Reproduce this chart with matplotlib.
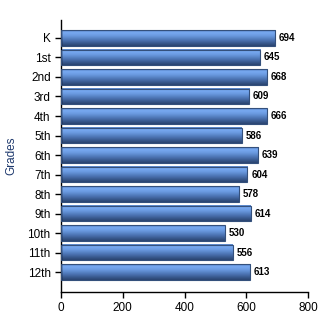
import matplotlib
matplotlib.use("Agg")
import matplotlib.pyplot as plt
import numpy as np
from matplotlib.colors import LinearSegmentedColormap

grades = ["K", "1st", "2nd", "3rd", "4th", "5th", "6th", "7th", "8th", "9th", "10th", "11th", "12th"]
values = [694, 645, 668, 609, 666, 586, 639, 604, 578, 614, 530, 556, 613]
xticks = [0, 200, 400, 600, 800]

plt.rcParams['font.family'] = ['Liberation Sans', 'DejaVu Sans']

fig = plt.figure(figsize=(3.3, 3.3), dpi=100)
ax = fig.add_axes([61/330, 1-292/330, (308-61)/330, (292-20)/330])

cmap = LinearSegmentedColormap.from_list("bar", [
    (0.0, "#5a86c8"), (0.15, "#78aaf2"), (0.35, "#6a9ae0"),
    (0.6, "#4f78b8"), (0.85, "#37568a"), (1.0, "#2a4470")])
grad = np.linspace(0, 1, 64).reshape(-1, 1)

pos = np.arange(len(grades))
h = 0.8
bars = ax.barh(pos, values, height=h, facecolor="none", edgecolor="#34507c", linewidth=0.8, zorder=3)
for b, v in zip(bars, values):
    y0 = b.get_y()
    ax.imshow(grad, cmap=cmap, aspect="auto", extent=(0, v, y0 + h, y0), zorder=2, interpolation="bilinear")
    ax.text(v + 12, b.get_y() + h / 2, str(v), va="center", ha="left", fontsize=7, fontweight="bold", color="black")

ax.set_xlim(0, 800)
ax.set_ylim(12 + 1.02, -0.92)
ax.set_yticks(pos)
ax.set_yticklabels(grades, fontsize=8.5)
ax.set_xticks(xticks)
ax.set_xticklabels([str(t) for t in xticks], fontsize=8.5)
ax.set_ylabel("Grades", fontsize=8.5, color="#1f3a6e", labelpad=7)
for s in ["top", "right"]:
    ax.spines[s].set_visible(False)
ax.spines["left"].set_linewidth(1)
ax.spines["bottom"].set_linewidth(1)
ax.tick_params(axis="both", length=4, width=1, direction="out")

fig.savefig("out.png", dpi=100)
